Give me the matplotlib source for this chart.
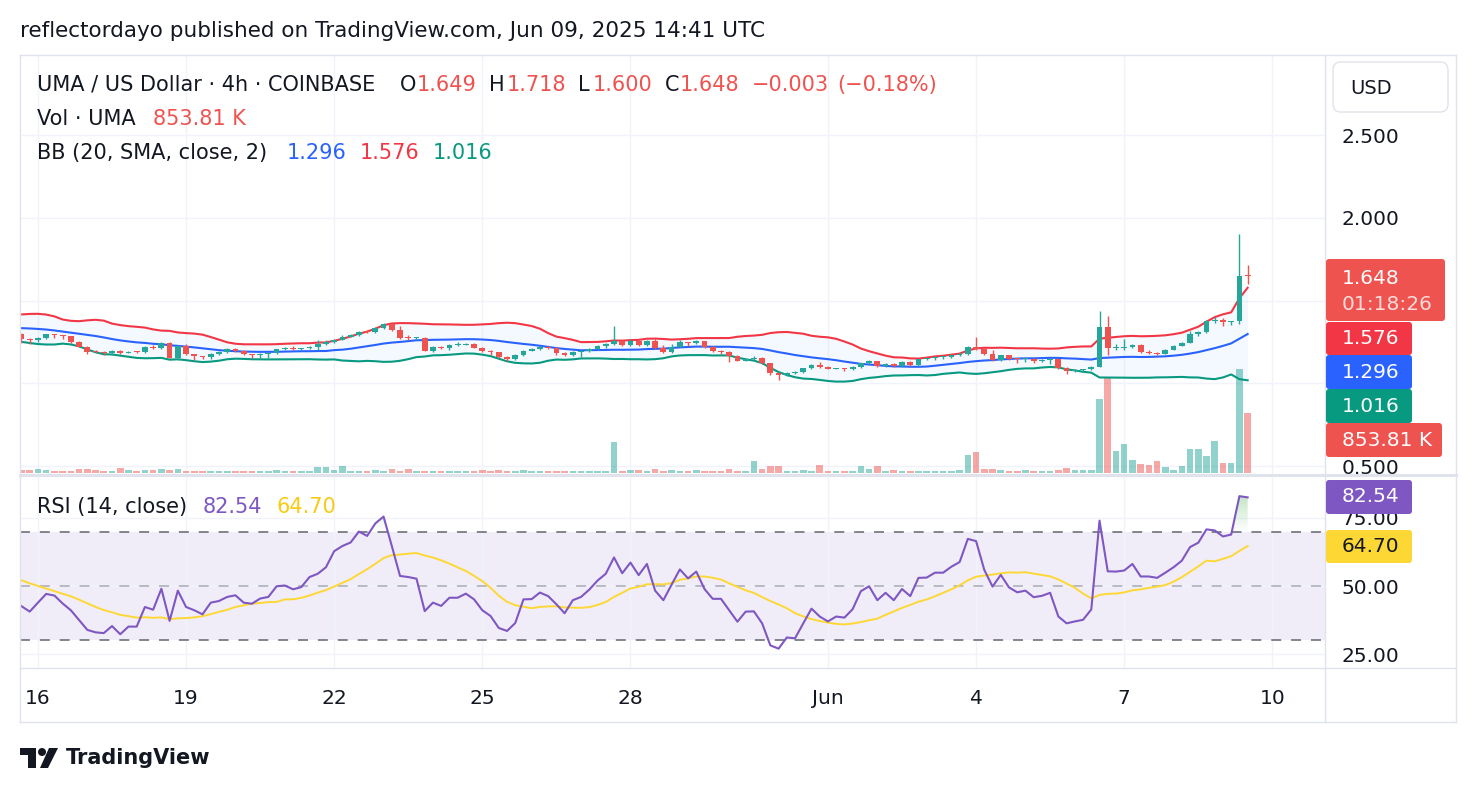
import numpy as np
import pandas as pd
import matplotlib
matplotlib.use("Agg")
import matplotlib.pyplot as plt
import matplotlib.dates as mdates
from matplotlib.lines import Line2D
from matplotlib.patches import FancyBboxPatch, Polygon, Circle
from matplotlib.path import Path
from matplotlib.transforms import IdentityTransform, blended_transform_factory
from matplotlib.colors import LinearSegmentedColormap

# ---- UMA/USD, Coinbase, 4h candles from 2025-05-15 16:00 UTC to 2025-06-09 12:00 UTC
start_time = "2025-05-15 16:00"
first_open = 1.300

closes = [
    1.268, 1.260, 1.275, 1.297, 1.290, 1.285, 1.250, 1.222, 1.192, 1.190,
    1.185, 1.198, 1.185, 1.193, 1.190, 1.222, 1.215, 1.245, 1.156, 1.228,
    1.176, 1.165, 1.160, 1.180, 1.190, 1.210, 1.198, 1.176, 1.170, 1.180,
    1.182, 1.208, 1.215, 1.210, 1.212, 1.222, 1.237, 1.250, 1.263, 1.283,
    1.290, 1.313, 1.310, 1.337, 1.360, 1.325, 1.277, 1.272, 1.275, 1.198,
    1.222, 1.215, 1.233, 1.235, 1.240, 1.217, 1.197, 1.190, 1.158, 1.148,
    1.172, 1.198, 1.210, 1.220, 1.215, 1.187, 1.170, 1.192, 1.195, 1.210,
    1.225, 1.240, 1.257, 1.230, 1.255, 1.230, 1.257, 1.213, 1.190, 1.222,
    1.249, 1.245, 1.255, 1.220, 1.195, 1.190, 1.168, 1.138, 1.145, 1.152,
    1.122, 1.062, 1.050, 1.066, 1.070, 1.092, 1.112, 1.098, 1.090, 1.092,
    1.088, 1.100, 1.122, 1.135, 1.105, 1.120, 1.105, 1.130, 1.110, 1.147,
    1.153, 1.160, 1.163, 1.170, 1.178, 1.222, 1.210, 1.176, 1.142, 1.170,
    1.148, 1.145, 1.150, 1.136, 1.140, 1.145, 1.095, 1.075, 1.080, 1.085,
    1.100, 1.343, 1.212, 1.215, 1.218, 1.235, 1.190, 1.186, 1.180, 1.205,
    1.228, 1.247, 1.300, 1.313, 1.378, 1.385, 1.370, 1.375, 1.649, 1.648,
]

highs = [
    1.305, 1.272, 1.280, 1.302, 1.302, 1.293, 1.288, 1.258, 1.225, 1.205,
    1.195, 1.200, 1.200, 1.198, 1.196, 1.225, 1.235, 1.250, 1.250, 1.232,
    1.240, 1.180, 1.168, 1.185, 1.195, 1.212, 1.215, 1.200, 1.180, 1.183,
    1.186, 1.210, 1.220, 1.225, 1.216, 1.226, 1.260, 1.262, 1.268, 1.290,
    1.296, 1.318, 1.322, 1.340, 1.365, 1.362, 1.345, 1.290, 1.280, 1.278,
    1.228, 1.226, 1.236, 1.250, 1.245, 1.243, 1.222, 1.200, 1.192, 1.165,
    1.176, 1.202, 1.214, 1.224, 1.228, 1.218, 1.190, 1.195, 1.200, 1.214,
    1.230, 1.245, 1.347, 1.265, 1.268, 1.260, 1.262, 1.270, 1.235, 1.238,
    1.262, 1.252, 1.262, 1.258, 1.225, 1.200, 1.195, 1.170, 1.150, 1.165,
    1.158, 1.125, 1.065, 1.070, 1.075, 1.095, 1.116, 1.130, 1.103, 1.096,
    1.095, 1.104, 1.126, 1.140, 1.138, 1.124, 1.124, 1.134, 1.133, 1.150,
    1.157, 1.164, 1.166, 1.174, 1.190, 1.228, 1.283, 1.213, 1.200, 1.174,
    1.175, 1.152, 1.155, 1.152, 1.145, 1.150, 1.148, 1.100, 1.085, 1.090,
    1.103, 1.440, 1.405, 1.240, 1.270, 1.240, 1.240, 1.200, 1.190, 1.208,
    1.232, 1.252, 1.320, 1.318, 1.383, 1.400, 1.395, 1.380, 1.903, 1.718,
]

lows = [
    1.245, 1.240, 1.250, 1.270, 1.275, 1.270, 1.245, 1.218, 1.178, 1.182,
    1.172, 1.170, 1.178, 1.183, 1.185, 1.185, 1.210, 1.210, 1.152, 1.140,
    1.170, 1.140, 1.150, 1.145, 1.175, 1.185, 1.190, 1.170, 1.155, 1.155,
    1.155, 1.178, 1.205, 1.205, 1.200, 1.208, 1.205, 1.235, 1.245, 1.260,
    1.280, 1.285, 1.305, 1.305, 1.330, 1.315, 1.270, 1.262, 1.260, 1.195,
    1.190, 1.210, 1.205, 1.228, 1.232, 1.213, 1.190, 1.172, 1.155, 1.138,
    1.140, 1.168, 1.195, 1.205, 1.210, 1.172, 1.165, 1.165, 1.160, 1.190,
    1.205, 1.215, 1.235, 1.225, 1.225, 1.225, 1.225, 1.210, 1.185, 1.185,
    1.218, 1.225, 1.240, 1.215, 1.190, 1.178, 1.130, 1.135, 1.135, 1.140,
    1.118, 1.050, 1.020, 1.045, 1.060, 1.065, 1.088, 1.095, 1.085, 1.086,
    1.075, 1.080, 1.095, 1.118, 1.100, 1.100, 1.100, 1.100, 1.105, 1.105,
    1.140, 1.140, 1.150, 1.155, 1.165, 1.175, 1.205, 1.172, 1.138, 1.138,
    1.144, 1.125, 1.128, 1.125, 1.130, 1.120, 1.090, 1.060, 1.072, 1.078,
    1.082, 1.097, 1.170, 1.200, 1.205, 1.212, 1.185, 1.180, 1.170, 1.178,
    1.200, 1.225, 1.245, 1.288, 1.305, 1.365, 1.350, 1.355, 1.360, 1.600,
]

# volume in thousands of UMA
volumes_k = [
    43, 43, 57, 43, 29, 29, 29, 57, 57, 43,
    29, 29, 67, 43, 29, 43, 43, 57, 43, 57,
    29, 29, 29, 29, 29, 29, 29, 29, 29, 29,
    29, 43, 29, 29, 29, 29, 76, 76, 43, 90,
    29, 29, 29, 43, 29, 57, 29, 57, 29, 29,
    29, 29, 29, 29, 29, 29, 43, 29, 43, 29,
    29, 43, 29, 29, 29, 29, 29, 29, 29, 29,
    29, 29, 443, 29, 43, 43, 29, 57, 29, 43,
    29, 29, 43, 29, 29, 29, 57, 29, 29, 172,
    57, 90, 100, 29, 29, 43, 29, 114, 29, 29,
    29, 29, 90, 57, 90, 29, 43, 29, 29, 29,
    29, 29, 29, 29, 43, 258, 300, 57, 57, 43,
    29, 29, 43, 29, 29, 29, 43, 60, 30, 30,
    30, 1046, 1370, 310, 405, 176, 120, 105, 168, 82,
    35, 90, 334, 334, 233, 448, 139, 134, 1476, 853.81,
]

rsi = [
    42.6, 40.6, 43.9, 47.1, 46.5, 43.6, 41.1, 37.5, 33.9, 33.0,
    32.7, 35.3, 32.3, 35.1, 35.1, 42.3, 41.3, 49.0, 37.2, 48.3,
    42.3, 41.1, 39.6, 43.9, 44.5, 46.0, 46.6, 43.9, 43.5, 45.4,
    46.0, 49.9, 50.2, 48.8, 49.6, 53.3, 54.5, 56.9, 62.8, 64.7,
    66.0, 70.0, 68.4, 73.0, 75.5, 64.7, 53.7, 53.3, 52.7, 40.8,
    43.9, 42.7, 45.7, 45.7, 47.2, 45.1, 41.1, 39.0, 34.6, 33.5,
    36.4, 45.1, 45.2, 47.6, 46.3, 43.3, 40.0, 44.8, 46.0, 48.7,
    52.0, 54.5, 60.5, 54.7, 58.6, 54.0, 58.1, 48.3, 44.8, 50.5,
    56.1, 52.8, 55.3, 48.9, 45.3, 45.3, 41.1, 36.9, 40.6, 40.7,
    36.3, 28.2, 27.0, 31.1, 30.8, 36.3, 41.7, 38.8, 37.0, 38.8,
    38.4, 41.5, 48.1, 49.9, 44.8, 47.5, 44.8, 48.9, 46.3, 53.0,
    53.1, 54.9, 54.9, 57.1, 58.8, 67.3, 66.5, 55.9, 49.8, 54.1,
    49.5, 47.7, 48.3, 45.9, 46.4, 47.5, 38.8, 36.3, 37.0, 37.6,
    41.4, 74.0, 55.4, 55.3, 55.7, 58.1, 53.5, 53.5, 53.0, 54.9,
    56.9, 59.3, 64.3, 65.9, 70.8, 70.4, 68.2, 68.9, 83.0, 82.54,
]

# bars just before the visible window, only needed to warm up BB(20) and RSI-MA(14)
warmup_closes = [1.30, 1.33, 1.37, 1.40, 1.42, 1.38, 1.36, 1.33, 1.32, 1.36,
                 1.39, 1.35, 1.32, 1.30, 1.29, 1.32, 1.30, 1.28, 1.30]
warmup_rsi = [56, 58, 60, 60, 57, 54, 55, 53, 51, 49, 47, 45, 42]

tick_dates = ["2025-05-16", "2025-05-19", "2025-05-22", "2025-05-25", "2025-05-28",
              "2025-06-01", "2025-06-04", "2025-06-07", "2025-06-10"]
tick_labels = ["16", "19", "22", "25", "28", "Jun", "4", "7", "10"]
price_ticks = [0.5, 1.0, 1.5, 2.0, 2.5]
price_labels = ["0.500", "", "", "2.000", "2.500"]   # 1.000 / 1.500 sit under the value tags
rsi_ticks = [25, 50, 75]

# ---- look
W, H = 1476, 794
UP, DOWN = "#26A69A", "#EF5350"
TXT = "#131722"
GRID = "#F0F3FA"
BORDER = "#E0E3EB"
BB_UP, BB_MID, BB_LOW = "#F23645", "#2962FF", "#089981"
RSI_C, RSI_MA_C = "#7E57C2", "#FDD835"
LEG = 15      # legend font size
AXF = 14.5    # scale / tag font size
plt.rcParams["font.family"] = ["DejaVu Sans"]

n = len(closes)
closes = np.array(closes)
opens = np.r_[first_open, closes[:-1]]
highs = np.maximum(np.array(highs), np.maximum(opens, closes))
lows = np.minimum(np.array(lows), np.minimum(opens, closes))
vol = np.array(volumes_k) * 1000
rsi = np.array(rsi)

times = pd.date_range(start_time, periods=n, freq="4h")
x = mdates.date2num(times)
step = 4 / 24
up = closes >= opens
colors = np.where(up, UP, DOWN)

cs = pd.Series(warmup_closes + list(closes))
basis = cs.rolling(20).mean().values[-n:]
dev = cs.rolling(20).std(ddof=0).values[-n:]
upper, lower = basis + 2 * dev, basis - 2 * dev
rsi_ma = pd.Series(warmup_rsi + list(rsi)).rolling(14).mean().values[-n:]

fig = plt.figure(figsize=(W / 100, H / 100), dpi=100)
fig.patch.set_facecolor("white")

L_PX, R_PX = 20, 1325


def pane(top, bot):
    return [L_PX / W, 1 - bot / H, (R_PX - L_PX) / W, (bot - top) / H]


vax = fig.add_axes(pane(55, 474))
ax = fig.add_axes(pane(55, 474), sharex=vax)
rax = fig.add_axes(pane(476, 668), sharex=vax)
ax.patch.set_alpha(0)
for a in (vax, ax, rax):
    for sp in a.spines.values():
        sp.set_visible(False)

# volume (overlay at the bottom of the price pane)
vax.bar(x, vol, width=step * 0.8, color=colors, alpha=0.5, lw=0)
vax.set_ylim(-21e3, 5979e3)
vax.set_yticks([])
vax.grid(axis="x", color=GRID, lw=1)
vax.set_axisbelow(True)
tr = blended_transform_factory(vax.transAxes, ax.transData)
for p in price_ticks:
    vax.add_line(Line2D([0, 1], [p, p], transform=tr, color=GRID, lw=1, zorder=0))

# bollinger bands
ax.fill_between(x, upper, lower, color="#2196F3", alpha=0.05, lw=0, zorder=1)
ax.plot(x, upper, color=BB_UP, lw=1.5, zorder=2)
ax.plot(x, basis, color=BB_MID, lw=1.5, zorder=2)
ax.plot(x, lower, color=BB_LOW, lw=1.5, zorder=2)

# candles
ax.vlines(x, lows, highs, colors=colors, lw=1.0, zorder=3)
body = np.maximum(np.abs(closes - opens), 0.006)
ax.bar(x, body, bottom=np.minimum(opens, closes), width=step * 0.7,
       color=colors, lw=0, zorder=4)
ax.set_ylim(0.453, 2.985)

# RSI pane
rax.axhspan(30, 70, color=RSI_C, alpha=0.1, lw=0, zorder=0)
rax.axhline(70, color="#787B86", lw=1.3, ls=(0, (5.5, 5.5)), zorder=1)
rax.axhline(30, color="#787B86", lw=1.3, ls=(0, (5.5, 5.5)), zorder=1)
rax.axhline(50, color="#787B86", lw=1.3, ls=(0, (5.5, 5.5)), alpha=0.5, zorder=1)
ob = rax.fill_between(x, rsi, 70, where=rsi > 70, interpolate=True, color="none", lw=0)
cmap = LinearSegmentedColormap.from_list(
    "ob", [(0.30, 0.69, 0.31, 0.0), (0.30, 0.69, 0.31, 0.75)])
grad = np.linspace(0, 1, 256).reshape(-1, 1)
im = rax.imshow(grad, cmap=cmap, aspect="auto", origin="lower",
                extent=[x[0], x[-1], 70, 100], zorder=1.5)
paths = ob.get_paths()
if paths:
    im.set_clip_path(Path.make_compound_path(*paths), rax.transData)
else:
    im.set_visible(False)
rax.plot(x, rsi_ma, color=RSI_MA_C, lw=1.4, zorder=2)
rax.plot(x, rsi, color=RSI_C, lw=1.5, zorder=3)
rax.set_ylim(19.9, 90.4)

# axes, ticks, grid
rax.set_xlim(x[0] - 0.18 * step, x[0] + 158.4 * step)
rax.set_xticks(mdates.date2num(pd.to_datetime(tick_dates)))
rax.set_xticklabels(tick_labels)
rax.tick_params(axis="x", length=0, pad=15, labelsize=AXF, labelcolor=TXT)
for a in (vax, ax):
    a.tick_params(axis="x", length=0, labelbottom=False)
rax.grid(axis="both", color=GRID, lw=1)
rax.set_axisbelow(True)

ax.yaxis.tick_right()
ax.set_yticks(price_ticks)
ax.set_yticklabels(price_labels)
rax.yaxis.tick_right()
rax.set_yticks(rsi_ticks)
rax.set_yticklabels([f"{v:.2f}" for v in rsi_ticks])
for a in (ax, rax):
    a.tick_params(axis="y", length=0, pad=12, labelsize=AXF, labelcolor=TXT)


# ---- frame and chrome (pixel coordinates from the top-left corner)
def hline(y, x0, x1, lw=1.0, c=BORDER):
    fig.add_artist(Line2D([x0 / W, x1 / W], [1 - y / H, 1 - y / H],
                          transform=fig.transFigure, color=c, lw=lw))


def vline(xp, y0, y1, lw=1.0, c=BORDER):
    fig.add_artist(Line2D([xp / W, xp / W], [1 - y0 / H, 1 - y1 / H],
                          transform=fig.transFigure, color=c, lw=lw))


hline(55, 20, 1456)
hline(475, 20, 1456, lw=2.2)
hline(668, 20, 1456)
hline(722, 20, 1456)
vline(20, 55, 722)
vline(1325, 55, 722)
vline(1456, 55, 722)


def txt(xp, yp, s, color=TXT, size=LEG, **kw):
    return fig.text(xp / W, 1 - yp / H, s, color=color, fontsize=size,
                    va="center", ha="left", **kw)


def label_box(x0, x1, y0, y1, face, rounding=3):
    fig.add_artist(FancyBboxPatch((x0, H - y1), x1 - x0, y1 - y0,
                                  boxstyle=f"round,pad=0,rounding_size={rounding}",
                                  transform=IdentityTransform(), fc=face, ec="none",
                                  zorder=5))


txt(20, 31, "reflectordayo published on TradingView.com, Jun 09, 2025 14:41 UTC", size=15.5)

txt(37, 85, "UMA / US Dollar · 4h · COINBASE")
for xp, s, c in [(400, "O", TXT), (417, "1.649", DOWN), (489, "H", TXT), (507, "1.718", DOWN),
                 (578, "L", TXT), (593, "1.600", DOWN), (665, "C", TXT), (680, "1.648", DOWN),
                 (752, "\u22120.003", DOWN), (837, "(\u22120.18%)", DOWN)]:
    txt(xp, 85, s, color=c)
txt(37, 119, "Vol · UMA")
txt(153, 119, "853.81 K", color=DOWN)
txt(37, 153, "BB (20, SMA, close, 2)")
txt(287, 153, "1.296", color=BB_MID)
txt(360, 153, "1.576", color=BB_UP)
txt(433, 153, "1.016", color=BB_LOW)
txt(37, 507, "RSI (14, close)")
txt(203, 507, "82.54", color=RSI_C)
txt(277, 507, "64.70", color="#F9CB14")

# USD selector
fig.add_artist(FancyBboxPatch((1333, H - 112), 115, 50, boxstyle="round,pad=0,rounding_size=8",
                              transform=IdentityTransform(), fc="white", ec=BORDER, lw=1))
txt(1350, 88, "USD", size=14)

# last-value tags on the price scale
label_box(1326, 1445, 259, 321, DOWN)
txt(1342, 278, "1.648", color="white", size=AXF, zorder=6)
txt(1342, 304, "01:18:26", color=(1, 1, 1, 0.8), size=AXF, zorder=6)
label_box(1326, 1412, 322, 355, BB_UP)
txt(1342, 338, "1.576", color="white", size=AXF, zorder=6)
label_box(1326, 1412, 355, 389, BB_MID)
txt(1342, 372, "1.296", color="white", size=AXF, zorder=6)
label_box(1326, 1412, 389, 423, BB_LOW)
txt(1342, 406, "1.016", color="white", size=AXF, zorder=6)
label_box(1326, 1442, 423, 457, DOWN)
txt(1342, 440, "853.81 K", color="white", size=AXF, zorder=6)
label_box(1326, 1412, 480, 514, RSI_C)
txt(1342, 497, "82.54", color="white", size=AXF, zorder=6)
label_box(1326, 1412, 530, 563, RSI_MA_C)
txt(1342, 546, "64.70", color=TXT, size=AXF, zorder=6)

# TradingView logo
lax = fig.add_axes([20 / W, 1 - 770 / H, 40 / W, 24 / H])
lax.set_xlim(0, 40)
lax.set_ylim(24, 0)
lax.axis("off")
lax.add_patch(Polygon([(0, 2), (16, 2), (16, 22), (8, 22), (8, 9), (0, 9)], closed=True, fc=TXT))
lax.add_patch(Circle((22, 6), 4, fc=TXT))
lax.add_patch(Polygon([(29, 2), (38, 2), (28, 22), (20, 22)], closed=True, fc=TXT))
txt(66, 758, "TradingView", size=15, weight="bold")

fig.savefig("out.png", dpi=100, facecolor="white")
